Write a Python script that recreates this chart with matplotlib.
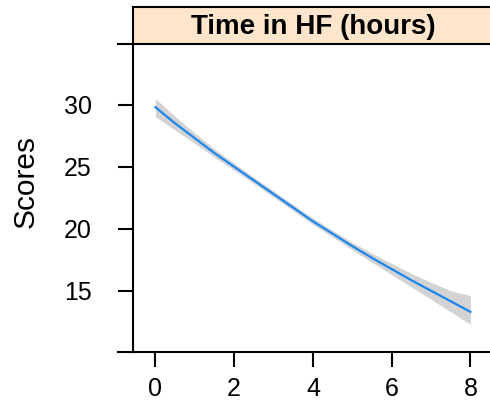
import matplotlib
matplotlib.use("Agg")
import matplotlib.pyplot as plt

plt.rcParams['font.family'] = ['Liberation Sans', 'DejaVu Sans']

# Data
hours = [0, 0.5, 1, 1.5, 2, 2.5, 3, 3.5, 4, 4.5, 5, 5.5, 6, 6.5, 7, 7.5, 8]
score_fit = [29.8, 28.5, 27.3, 26.1, 25.0, 23.9, 22.8, 21.7, 20.6, 19.6, 18.6,
             17.65, 16.75, 15.85, 15.0, 14.15, 13.3]
score_lo = [29.05, 27.95, 26.88, 25.77, 24.72, 23.65, 22.55, 21.45, 20.35, 19.33, 18.3,
            17.29, 16.3, 15.3, 14.32, 13.3, 12.3]
score_hi = [30.5, 29.05, 27.72, 26.43, 25.28, 24.15, 23.05, 21.95, 20.85, 19.87, 18.9,
            18.01, 17.2, 16.4, 15.68, 15.0, 14.6]
x_ticks = [0, 2, 4, 6, 8]
y_ticks = [15, 20, 25, 30]
strip_title = "Time in HF (hours)"
y_label = "Scores"

W, H = 490, 401
fig = plt.figure(figsize=(W / 100, H / 100), dpi=100)

left, right = 133, 494
top_strip, top_panel, bottom = 7, 44, 352
ax = fig.add_axes([left / W, (H - bottom) / H, (right - left) / W, (bottom - top_panel) / H])
ax.fill_between(hours, score_lo, score_hi, color='#d3d3d3', lw=0)
ax.plot(hours, score_fit, color='#1C86EE', lw=1.6)
ax.set_xlim(-0.57, 8.6)
ax.set_ylim(10.06, 34.9)
ax.set_xticks(x_ticks)
ax.set_yticks(y_ticks)
ax.tick_params(axis='both', direction='out', length=10.8, width=1.5, labelsize=18, colors='black')
ax.tick_params(axis='y', pad=19)
ax.tick_params(axis='x', pad=7.5)
for s in ax.spines.values():
    s.set_linewidth(1.5)
ax.spines['right'].set_visible(False)
ax.spines['top'].set_visible(False)
# extension lines to the left at panel bottom and top
ext = 15 / (right - left)
for yy in (0, 1):
    ax.plot([-ext, 0], [yy, yy], transform=ax.transAxes, color='black', lw=1.5, clip_on=False)

sax = fig.add_axes([left / W, (H - top_panel) / H, (right - left) / W, (top_panel - top_strip) / H])
sax.set_facecolor('#FFE5CC')
sax.set_xticks([])
sax.set_yticks([])
for s in sax.spines.values():
    s.set_linewidth(1.5)
sax.text(0.5, 0.45, strip_title, transform=sax.transAxes, ha='center', va='center',
         fontsize=20, fontweight='bold')

fig.text(26 / W, 1 - 182 / H, y_label, rotation=90, ha='center', va='center', fontsize=21.5)

fig.savefig('out.png', dpi=100)
